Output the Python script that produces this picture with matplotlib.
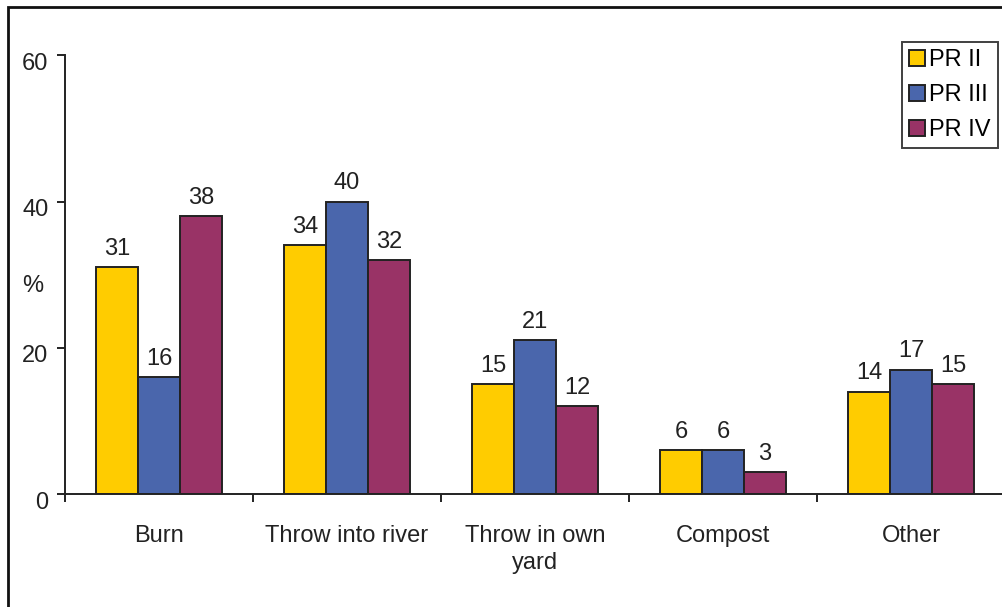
import numpy as np
import matplotlib.pyplot as plt
import matplotlib.transforms as mtransforms
from matplotlib.patches import Rectangle

categories = ["Burn", "Throw into river", "Throw in own\nyard", "Compost", "Other"]
series = ["PR II", "PR III", "PR IV"]
pr2 = [31, 34, 15, 6, 14]
pr3 = [16, 40, 21, 6, 17]
pr4 = [38, 32, 12, 3, 15]
colors = ["#FFCC00", "#4A66AC", "#993366"]

plt.rcParams['font.family'] = ['Liberation Sans', 'DejaVu Sans']
fs = 17

fig = plt.figure(figsize=(10.03, 6.07), dpi=100)
ax = fig.add_axes([0.0648, 0.186, 0.9372, 0.723])

# outer frame of the chart area (only left and top visible)
fig.patches.append(Rectangle((0.008, -0.05), 1.5, 1.038, transform=fig.transFigure,
                             fill=False, edgecolor="#111111", linewidth=2))

x = np.arange(len(categories))
w = 0.223
for i, (vals, col, name) in enumerate(zip([pr2, pr3, pr4], colors, series)):
    pos = x + (i - 1) * w
    bars = ax.bar(pos, vals, w, color=col, edgecolor="#222222", linewidth=1.4, label=name)
    for b, v in zip(bars, vals):
        ax.text(b.get_x() + b.get_width() / 2, v + 1.0, str(v), ha="center", va="bottom",
                fontsize=fs, color="#222222")

ax.set_xlim(-0.5, 4.5)
ax.set_ylim(0, 60)
ax.set_yticks([0, 20, 40, 60])
ax.tick_params(axis="y", labelsize=fs, length=6, width=1.4, direction="out", pad=6,
               colors="#222222")
# y labels sit a little below their ticks in the original
shift = mtransforms.ScaledTranslation(0, -6 / 100, fig.dpi_scale_trans)
for lab in ax.get_yticklabels():
    lab.set_transform(lab.get_transform() + shift)

ax.set_xticks(x)
ax.set_xticklabels(categories, linespacing=1.3)
ax.tick_params(axis="x", which="major", length=0, labelsize=fs, pad=22, colors="#222222")
ax.set_xticks(np.arange(-0.5, 5.0, 1.0), minor=True)
ax.tick_params(axis="x", which="minor", length=6, width=1.4, direction="out", colors="#222222")

for s in ["top", "right"]:
    ax.spines[s].set_visible(False)
for s in ["left", "bottom"]:
    ax.spines[s].set_linewidth(1.4)
    ax.spines[s].set_color("#222222")

ax.text(-0.034, 0.475, "%", transform=ax.transAxes, fontsize=fs, ha="center", va="center",
        color="#222222")

leg = fig.legend(loc="upper left", bbox_to_anchor=(0.8995, 0.931), fontsize=fs,
                 frameon=True, fancybox=False, edgecolor="#111111", handlelength=0.65,
                 handleheight=0.65, handletextpad=0.2, labelspacing=0.55, borderpad=0.3,
                 borderaxespad=0)
leg.get_frame().set_linewidth(1.4)

fig.savefig("out.png", dpi=100)
